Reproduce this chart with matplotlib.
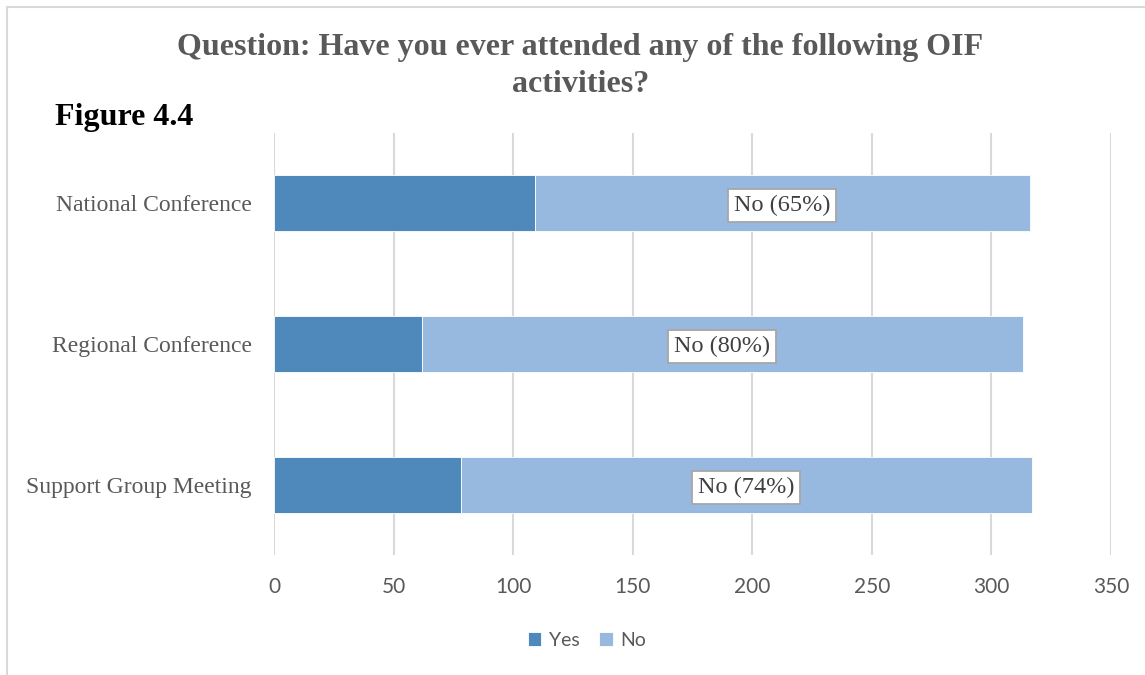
import matplotlib.pyplot as plt
from matplotlib.patches import Rectangle

# survey counts per activity
activities = ['National Conference', 'Regional Conference', 'Support Group Meeting']
yes_counts = [109, 62, 78]
no_counts = [207, 251, 239]
no_labels = ['No (65%)', 'No (80%)', 'No (74%)']
xticks = [0, 50, 100, 150, 200, 250, 300, 350]

yes_color = '#4f88bb'
no_color = '#98b9df'
text_gray = '#595959'

fig = plt.figure(figsize=(11.45, 6.75), dpi=100)
ax = fig.add_axes([0.2393, 0.1778, 0.9703 - 0.2393, 0.803 - 0.1778])

y = list(range(len(activities)))
ax.barh(y, yes_counts, height=0.4, color=yes_color, label='Yes',
        edgecolor='white', linewidth=0.6)
ax.barh(y, no_counts, left=yes_counts, height=0.4, color=no_color, label='No',
        edgecolor='white', linewidth=0.6)

# data labels in the middle of the "No" segments
for i in y:
    cx = yes_counts[i] + no_counts[i] / 2
    ax.text(cx, i, no_labels[i], ha='center', va='center_baseline', fontsize=17.5,
            family='Liberation Serif', color='#404040',
            bbox=dict(boxstyle='square,pad=0.24', fc='white', ec='#a6a6a6', lw=1.3))

ax.set_xlim(0, 350)
ax.set_ylim(2.5, -0.5)
ax.set_xticks(xticks)
ax.set_yticks(y)
ax.set_yticklabels(activities, family='Liberation Serif', fontsize=17, color=text_gray)
ax.tick_params(axis='y', length=0, pad=16)
ax.tick_params(axis='x', length=0, pad=16, labelsize=15, labelcolor=text_gray)
for lbl in ax.get_xticklabels():
    lbl.set_family('Lato')

ax.grid(axis='x', color='#d9d9d9', linewidth=1.5)
ax.set_axisbelow(True)
for s in ax.spines.values():
    s.set_visible(False)

leg = fig.legend(loc='center', bbox_to_anchor=(587 / 1145, 1 - 640 / 675), ncol=2,
                 frameon=False, handlelength=0.7, handleheight=0.7,
                 handletextpad=0.4, columnspacing=1.0,
                 prop={'family': 'Lato', 'size': 14})
for t in leg.get_texts():
    t.set_color(text_gray)

fig.text(0.507, 1 - 48 / 675, 'Question: Have you ever attended any of the following OIF',
         ha='center', va='center', fontsize=23, fontweight='bold',
         family='Liberation Serif', color=text_gray)
fig.text(0.507, 1 - 85 / 675, 'activities?', ha='center', va='center', fontsize=23,
         fontweight='bold', family='Liberation Serif', color=text_gray)
fig.text(55 / 1145, 1 - 117 / 675, 'Figure 4.4', ha='left', va='center', fontsize=23,
         fontweight='bold', family='Liberation Serif', color='black')

# outer chart frame
fig.patches.append(Rectangle((7 / 1145, -0.01), 1.2, 1 - 7 / 675 + 0.01,
                             transform=fig.transFigure, fill=False,
                             ec='#d9d9d9', lw=1.5))

fig.savefig('out.png', dpi=100)
